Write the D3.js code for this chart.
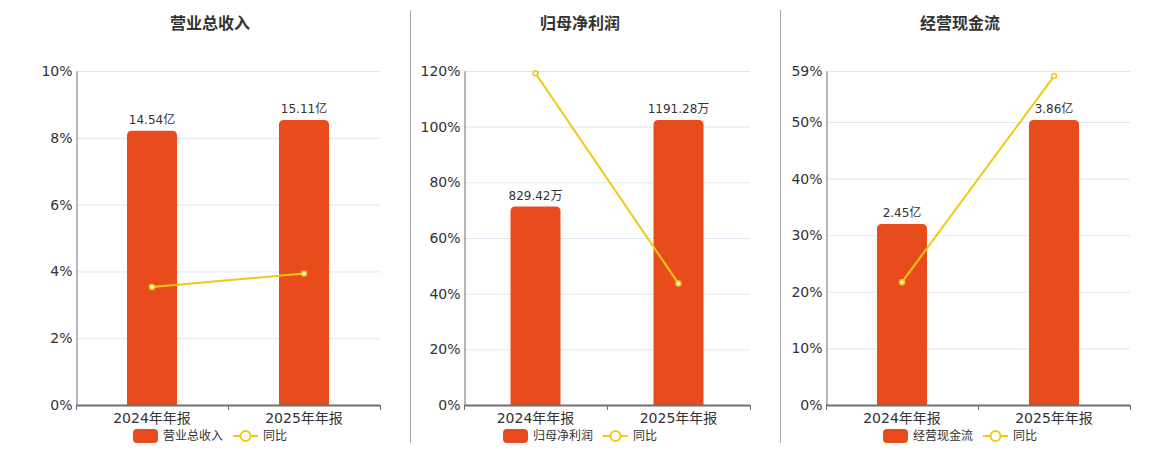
<!DOCTYPE html>
<html>
<head>
<meta charset="utf-8">
<script src="https://cdn.jsdelivr.net/npm/d3@7"></script>
<style>
  body { margin: 0; background: #fff; }
  svg { font-family: "DejaVu Sans", "Noto Sans CJK SC", sans-serif; }
</style>
</head>
<body>
<svg id="chart" width="1160" height="450"></svg>
<script>
const categories = ["2024年年报", "2025年年报"];

const titles = ["营业总收入", "归母净利润", "经营现金流"];
const barValues = [
  [14.54, 15.11],
  [829.42, 1191.28],
  [2.45, 3.86],
];
const barLabels = [
  ["14.54亿", "15.11亿"],
  ["829.42万", "1191.28万"],
  ["2.45亿", "3.86亿"],
];
const yoyValues = [
  [3.53, 3.94],
  [119.2, 43.63],
  [21.7, 58.1],
];
const yoyTicks = [
  [0, 2, 4, 6, 8, 10],
  [0, 20, 40, 60, 80, 100, 120],
  [0, 10, 20, 30, 40, 50, 59],
];

const svg = d3.select("#chart");
const barColor = "#e84c1c";
const lineColor = "#f2c811";

// panel geometry taken from the reference layout
const panels = [
  { left: 76, right: 380, center: 210 },
  { left: 464, right: 750, center: 580 },
  { left: 826, right: 1130, center: 960 },
];
const plotTop = 71,
  plotBottom = 405;

// divider lines between the panels
[410, 780].forEach((x) => {
  svg
    .append("line")
    .attr("x1", x + 0.5)
    .attr("x2", x + 0.5)
    .attr("y1", 10)
    .attr("y2", 443)
    .attr("stroke", "#aaa")
    .attr("stroke-width", 1);
});

function roundedTopBar(x, y, w, h, r) {
  r = Math.min(r, h, w / 2);
  return `M${x},${y + h} L${x},${y + r} Q${x},${y} ${x + r},${y} L${x + w - r},${y} Q${x + w},${y} ${x + w},${y + r} L${x + w},${y + h} Z`;
}

panels.forEach((p, i) => {
  const g = svg.append("g");
  const ticks = yoyTicks[i];

  const xScale = d3
    .scaleBand()
    .domain(categories)
    .range([p.left, p.right])
    .padding(0);
  const yScale = d3
    .scaleLinear()
    .domain([0, d3.max(ticks)])
    .range([plotBottom, plotTop]);
  // bars sit on a hidden axis of their own
  const barScale = d3
    .scaleLinear()
    .domain([0, d3.max(barValues[i]) * 1.172])
    .range([plotBottom, plotTop]);

  // title
  g.append("text")
    .attr("x", p.center)
    .attr("y", 29)
    .attr("text-anchor", "middle")
    .attr("font-size", 16)
    .attr("font-weight", "bold")
    .attr("font-family", "Noto Sans CJK SC, sans-serif")
    .attr("fill", "#333")
    .text(titles[i]);

  // grid lines
  g.append("g")
    .selectAll("line")
    .data(ticks)
    .join("line")
    .attr("x1", p.left)
    .attr("x2", p.right)
    .attr("y1", (d) => yScale(d) + 0.5)
    .attr("y2", (d) => yScale(d) + 0.5)
    .attr("stroke", "#e0e6f1");

  // y axis
  const yAxis = g
    .append("g")
    .attr("transform", `translate(${p.left + 0.5},0)`)
    .call(
      d3
        .axisLeft(yScale)
        .tickValues(ticks)
        .tickSize(0)
        .tickPadding(4)
        .tickFormat((d) => d + "%")
    );
  yAxis.select(".domain").attr("stroke", "#6e7079");
  yAxis
    .selectAll("text")
    .attr("font-size", 14)
    .attr("fill", "#333")
    .attr("font-family", "DejaVu Sans, sans-serif");

  // bars
  const bw = 50;
  g.append("g")
    .selectAll("path")
    .data(barValues[i])
    .join("path")
    .attr("d", (d, j) => {
      const cx = xScale(categories[j]) + xScale.bandwidth() / 2;
      const y = barScale(d);
      return roundedTopBar(cx - bw / 2, y, bw, plotBottom - y, 5);
    })
    .attr("fill", barColor);

  // bar labels
  g.append("g")
    .selectAll("text")
    .data(barValues[i])
    .join("text")
    .attr("x", (d, j) => xScale(categories[j]) + xScale.bandwidth() / 2)
    .attr("y", (d) => barScale(d) - 7)
    .attr("text-anchor", "middle")
    .attr("font-size", 12)
    .attr("fill", "#333")
    .text((d, j) => barLabels[i][j]);

  // x axis
  const xAxis = g
    .append("g")
    .attr("transform", `translate(0,${plotBottom + 0.5})`)
    .call(d3.axisBottom(xScale).tickSize(0).tickPadding(8));
  xAxis.select(".domain").remove();
  xAxis
    .selectAll("text")
    .attr("font-size", 14)
    .attr("font-family", "DejaVu Sans, Noto Sans CJK SC, sans-serif")
    .attr("fill", "#333");
  g.append("line")
    .attr("x1", p.left)
    .attr("x2", p.right)
    .attr("y1", plotBottom + 0.5)
    .attr("y2", plotBottom + 0.5)
    .attr("stroke", "#6e7079")
    .attr("stroke-width", 2);
  [p.left, (p.left + p.right) / 2, p.right].forEach((x) => {
    g.append("line")
      .attr("x1", Math.round(x) + 0.5)
      .attr("x2", Math.round(x) + 0.5)
      .attr("y1", plotBottom)
      .attr("y2", plotBottom + 5)
      .attr("stroke", "#6e7079");
  });

  // yoy line
  const pts = yoyValues[i].map((v, j) => [
    xScale(categories[j]) + xScale.bandwidth() / 2,
    yScale(v),
  ]);
  g.append("path")
    .attr("d", d3.line()(pts))
    .attr("fill", "none")
    .attr("stroke", lineColor)
    .attr("stroke-width", 2);
  g.append("g")
    .selectAll("circle")
    .data(pts)
    .join("circle")
    .attr("cx", (d) => d[0])
    .attr("cy", (d) => d[1])
    .attr("r", 2.5)
    .attr("fill", "#fff")
    .attr("stroke", lineColor)
    .attr("stroke-width", 1.5);

  // legend
  const lg = g.append("g").attr("transform", `translate(${p.center - 77},0)`);
  lg.append("rect")
    .attr("x", 0)
    .attr("y", 429)
    .attr("width", 25)
    .attr("height", 14)
    .attr("rx", 4)
    .attr("fill", barColor);
  lg.append("text")
    .attr("x", 30)
    .attr("y", 440)
    .attr("font-size", 12)
    .attr("fill", "#333")
    .text(titles[i]);
  lg.append("line")
    .attr("x1", 100)
    .attr("x2", 125)
    .attr("y1", 436)
    .attr("y2", 436)
    .attr("stroke", lineColor)
    .attr("stroke-width", 2);
  lg.append("circle")
    .attr("cx", 112.5)
    .attr("cy", 436)
    .attr("r", 5)
    .attr("fill", "#fff")
    .attr("stroke", lineColor)
    .attr("stroke-width", 2);
  lg.append("text")
    .attr("x", 130)
    .attr("y", 440)
    .attr("font-size", 12)
    .attr("fill", "#333")
    .text("同比");
});
</script>
</body>
</html>
